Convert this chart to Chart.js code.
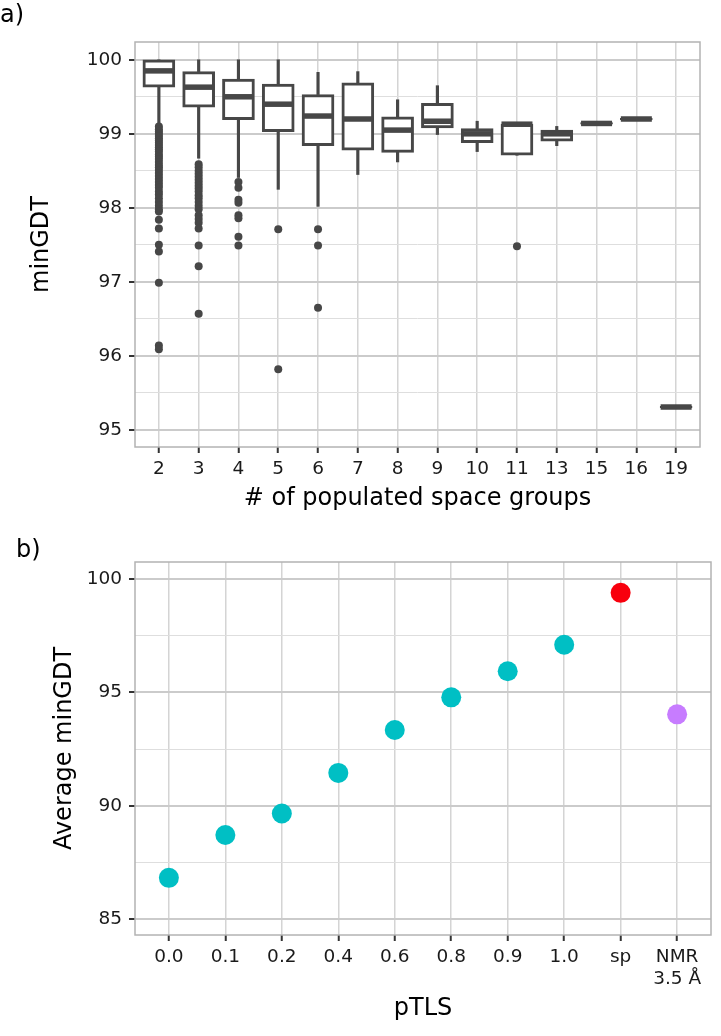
<!DOCTYPE html>
<html>
<head>
<meta charset="utf-8">
<script src="https://cdn.jsdelivr.net/npm/chart.js@4.4.1/dist/chart.umd.min.js"></script>
<style>
  body { margin: 0; background: #fff; }
  #wrap { position: relative; width: 721px; height: 1036px; font-family: "DejaVu Sans", sans-serif; }
  .panel { position: absolute; left: 0; width: 721px; }
  .tag { position: absolute; font-size: 24px; color: #000; line-height: 1; }
</style>
</head>
<body>
<div id="wrap">
  <div class="panel" style="top:0;height:515px"><canvas id="chartA"></canvas></div>
  <div class="panel" style="top:515px;height:521px"><canvas id="chartB"></canvas></div>
  <div class="tag" style="left:0;top:2px">a)</div>
  <div class="tag" style="left:16px;top:537px">b)</div>
</div>
<script>
// ---- panel a: minGDT by number of populated space groups ----
const groups = ['2', '3', '4', '5', '6', '7', '8', '9', '10', '11', '13', '15', '16', '19'];
const whiskerLow  = [99.12, 98.67, 98.41, 98.25, 98.02, 98.45, 98.62, 98.99, 98.76, 98.71, 98.84, 99.13, 99.19, 95.30];
const q1          = [99.63, 99.36, 99.19, 99.03, 98.84, 98.78, 98.75, 99.08, 98.88, 98.71, 98.90, 99.13, 99.19, 95.30];
const median      = [99.85, 99.63, 99.50, 99.40, 99.24, 99.20, 99.05, 99.17, 99.00, 99.13, 99.00, 99.14, 99.20, 95.31];
const q3          = [100.0, 99.84, 99.74, 99.67, 99.53, 99.69, 99.23, 99.41, 99.07, 99.13, 99.05, 99.15, 99.21, 95.32];
const whiskerHigh = [100.0, 100.0, 100.0, 100.0, 99.83, 99.84, 99.46, 99.65, 99.17, 99.13, 99.10, 99.15, 99.21, 95.32];
const outliers = [
  [99.10, 99.06, 99.03, 99.00, 98.97, 98.94, 98.91, 98.88, 98.85, 98.82, 98.79, 98.76, 98.72, 98.69,
   98.66, 98.62, 98.58, 98.55, 98.51, 98.47, 98.43, 98.39, 98.35, 98.31, 98.27, 98.22, 98.18, 98.13,
   98.08, 98.03, 97.98, 97.95, 97.84, 97.72, 97.50, 97.41, 96.99, 96.14, 96.09],
  [98.59, 98.55, 98.50, 98.46, 98.42, 98.38, 98.34, 98.30, 98.26, 98.22, 98.17, 98.13, 98.08, 98.03,
   97.98, 97.90, 97.85, 97.80, 97.72, 97.49, 97.21, 96.57],
  [98.35, 98.27, 98.11, 98.07, 97.90, 97.86, 97.61, 97.49],
  [97.71, 95.82],
  [97.71, 97.49, 96.65],
  [], [], [], [],
  [97.48],
  [], [], [], []
];
const yTicksA = [95, 95.5, 96, 96.5, 97, 97.5, 98, 98.5, 99, 99.5, 100];

// ---- panel b: average minGDT by pTLS ----
const ptls = ['0.0', '0.1', '0.2', '0.4', '0.6', '0.8', '0.9', '1.0', 'sp', ['NMR', '3.5 Å']];
const avgMinGDT = [86.82, 88.71, 89.66, 91.45, 93.34, 94.78, 95.93, 97.10, 99.39, 94.03];
const pointColors = ['#00BFC4', '#00BFC4', '#00BFC4', '#00BFC4', '#00BFC4', '#00BFC4', '#00BFC4', '#00BFC4', '#F8000D', '#C77CFF'];
const yTicksB = [85, 87.5, 90, 92.5, 95, 97.5, 100];

const FONT = '"DejaVu Sans", sans-serif';
const ink = '#474747';

const frame = {
  id: 'frame',
  afterDatasetsDraw(chart) {
    const a = chart.chartArea, ctx = chart.ctx;
    ctx.save();
    ctx.strokeStyle = '#b3b3b3';
    ctx.lineWidth = 1.5;
    ctx.strokeRect(a.left, a.top, a.right - a.left, a.bottom - a.top);
    ctx.restore();
  }
};

function yAxis(min, max, ticks, isMajor, title, titlePad) {
  return {
    type: 'linear', min: min, max: max,
    afterBuildTicks: s => { s.ticks = ticks.map(v => ({ value: v })); },
    afterFit: s => { s.width = 135; },
    ticks: {
      callback: v => isMajor(v) ? String(v) : '',
      font: { family: FONT, size: 18.5 }, color: '#1a1a1a', padding: 7
    },
    grid: {
      color: ctx => isMajor(ctx.tick.value) ? '#cbcbcb' : '#dedede',
      lineWidth: ctx => isMajor(ctx.tick.value) ? 2 : 1,
      tickColor: ctx => isMajor(ctx.tick.value) ? '#333' : 'rgba(0,0,0,0)',
      tickLength: 6, tickWidth: 2
    },
    border: { display: false },
    title: { display: true, text: title, font: { family: FONT, size: 24 }, color: '#000', padding: { top: titlePad } }
  };
}

function xAxis(labels, title, height, titlePadBottom) {
  return {
    type: 'linear', min: -0.6, max: labels.length - 0.4, offset: false,
    afterBuildTicks: s => { s.ticks = labels.map((l, i) => ({ value: i })); },
    afterFit: s => { s.height = height; },
    ticks: {
      callback: v => labels[v], autoSkip: false, maxRotation: 0,
      font: { family: FONT, size: 18.5 }, color: '#1a1a1a', padding: 5
    },
    grid: { offset: false, color: '#d4d4d4', lineWidth: 1.5, tickColor: '#333', tickLength: 6, tickWidth: 2 },
    border: { display: false },
    title: { display: true, text: title, font: { family: FONT, size: 24 }, color: '#000', padding: { bottom: titlePadBottom } }
  };
}

const outlierPoints = [];
outliers.forEach((vals, i) => vals.forEach(v => outlierPoints.push({ x: i, y: v })));

new Chart(document.getElementById('chartA'), {
  type: 'bar',
  data: {
    datasets: [
      {
        label: 'upper whisker', order: 5, grouped: false, barThickness: 2.5,
        data: groups.map((g, i) => ({ x: i, y: [q3[i], whiskerHigh[i]] })),
        backgroundColor: ink
      },
      {
        label: 'lower whisker', order: 5, grouped: false, barThickness: 2.5,
        data: groups.map((g, i) => ({ x: i, y: [whiskerLow[i], q1[i]] })),
        backgroundColor: ink
      },
      {
        label: 'box', order: 4, grouped: false, barThickness: 32,
        data: groups.map((g, i) => ({ x: i, y: [q1[i], q3[i]] })),
        backgroundColor: '#fff', borderColor: ink, borderWidth: 3, borderSkipped: false
      },
      {
        type: 'line', label: 'median', order: 3, showLine: false,
        data: groups.map((g, i) => ({ x: i, y: median[i] })),
        pointStyle: 'line', pointRadius: 15.5, pointBorderWidth: 5.5, pointBorderColor: ink
      },
      {
        type: 'line', label: 'outliers', order: 2, showLine: false,
        data: outlierPoints,
        pointRadius: 4, pointBackgroundColor: ink, pointBorderWidth: 0
      }
    ]
  },
  options: {
    responsive: true, maintainAspectRatio: false, animation: false,
    layout: { padding: { top: 42, right: 1, left: 0, bottom: 0 } },
    plugins: { legend: { display: false }, tooltip: { enabled: false } },
    scales: {
      x: xAxis(groups, '# of populated space groups', 68, 2),
      y: yAxis(94.77, 100.24, yTicksA, v => Number.isInteger(v), 'minGDT', 27)
    }
  },
  plugins: [frame]
});

new Chart(document.getElementById('chartB'), {
  type: 'line',
  data: {
    datasets: [{
      label: 'Average minGDT', showLine: false,
      data: avgMinGDT.map((v, i) => ({ x: i, y: v })),
      pointRadius: 10, pointBackgroundColor: pointColors, pointBorderWidth: 0
    }]
  },
  options: {
    responsive: true, maintainAspectRatio: false, animation: false,
    layout: { padding: { top: 47, right: 1, left: 0, bottom: 0 } },
    plugins: { legend: { display: false }, tooltip: { enabled: false } },
    scales: {
      x: xAxis(ptls, 'pTLS', 101, 13),
      y: yAxis(84.3, 100.75, yTicksB, v => v % 5 === 0, 'Average minGDT', 50)
    }
  },
  plugins: [frame]
});
</script>
</body>
</html>
